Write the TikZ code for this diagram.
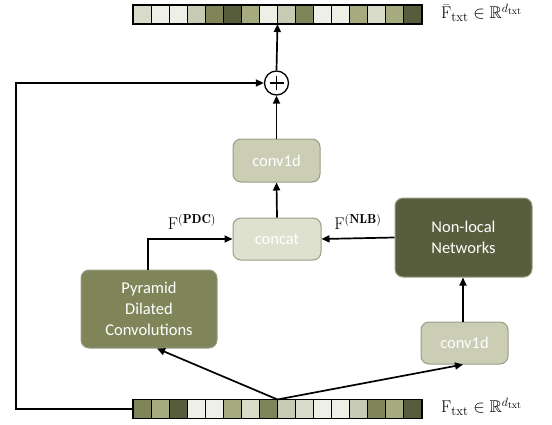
\documentclass[tikz,border=0pt]{standalone}
\usepackage{amsmath,amssymb}
\usepackage{fontspec}
\newfontfamily\boxfont{Carlito}
\DeclareMathSizes{17}{17}{13}{10}
\usetikzlibrary{arrows.meta,positioning,calc}
\definecolor{cVL}{HTML}{EEEFE6}
\definecolor{cL}{HTML}{D9DBCB}
\definecolor{cLM}{HTML}{C8CBB4}
\definecolor{cML}{HTML}{A5AA7F}
\definecolor{cM}{HTML}{7F8558}
\definecolor{cD}{HTML}{575D3C}
\definecolor{convfill}{HTML}{CBCDB5}
\definecolor{concatfill}{HTML}{DEE0D0}
\definecolor{pdcfill}{HTML}{7F8559}
\definecolor{nlfill}{HTML}{585E3D}
\definecolor{boxborder}{HTML}{9A9D85}
\tikzset{
  cell/.style={draw=black, line width=1.1pt, minimum width=18.06pt, minimum height=19pt, inner sep=0pt, outer sep=0pt},
  blk/.style={rounded corners=8pt, draw=boxborder, line width=1pt, text=white, align=center, inner sep=0pt,
    font=\boxfont\fontsize{16.5}{21}\selectfont},
  conn/.style={line width=1.7pt, draw=black},
  arr/.style={conn, -{Triangle[length=8pt,width=7pt]}},
  mlabel/.style={font=\fontsize{17}{20}\selectfont, inner sep=0pt}
}
\begin{document}
\begin{tikzpicture}[x=1pt,y=-1pt]
\useasboundingbox (0,0) rectangle (552,424);
% top bar
\foreach \c [count=\i] in {cL,cVL,cVL,cLM,cM,cD,cML,cVL,cLM,cM,cVL,cVL,cML,cL,cML,cD}{
  \node[cell, fill=\c] (t\i) at ({133+18.06*(\i-0.5)},14.5) {};
}
% bottom bar
\foreach \c [count=\i] in {cM,cML,cD,cVL,cVL,cML,cL,cM,cLM,cL,cVL,cVL,cLM,cM,cML,cD}{
  \node[cell, fill=\c] (b\i) at ({133+18.06*(\i-0.5)},409) {};
}
\node[mlabel, anchor=west] (toplab) at (441,13) {$\bar{\mathrm{F}}_{\mathrm{txt}} \in \mathbb{R}^{d_{\mathrm{txt}}}$};
\node[mlabel, anchor=west] (botlab) at (441,407) {$\mathrm{F}_{\mathrm{txt}} \in \mathbb{R}^{d_{\mathrm{txt}}}$};

% blocks
\node[blk, fill=convfill, minimum width=87pt, minimum height=43pt] (conv1) at (276.5,160.5) {conv1d};
\node[blk, fill=concatfill, minimum width=88pt, minimum height=42pt] (concat) at (277,239) {concat};
\node[blk, fill=nlfill, minimum width=137pt, minimum height=79pt] (nl) at (463.5,237.5) {Non-local\\Networks};
\node[blk, fill=pdcfill, minimum width=136pt, minimum height=78pt] (pdc) at (149,309) {Pyramid\\Dilated\\Convolutions};
\node[blk, fill=convfill, minimum width=87pt, minimum height=42pt] (conv2) at (464.5,343) {conv1d};

% plus
\node[circle, draw=black, line width=1.3pt, minimum size=24pt, inner sep=0pt] (plus) at (276.5,83) {};
\draw[line width=1.3pt] ([xshift=-7pt]plus.center) -- ([xshift=7pt]plus.center);
\draw[line width=1.3pt] ([yshift=-7pt]plus.center) -- ([yshift=7pt]plus.center);

% connectors
\coordinate (fork) at (b8.north east);
\draw[arr] (fork) -- (pdc.south -| 157,0) ;
\draw[arr] (fork) -- (conv2.south -| 463,0);
\draw[arr] (conv2.north -| 463,0) -- (nl.south -| 463,0);
\draw[arr] (nl.west) -- (concat.east);
\draw[arr] (pdc.north -| 148,0) |- (concat.west);
\draw[arr] (concat.north) -- (conv1.south);
\draw[arr] (conv1.north) -- (plus.south);
\draw[arr] (plus.north) -- (t8.south east);
\coordinate (lc1) at (16,409);
\coordinate (lc2) at (16,83);
\draw[arr] (b1.west) -- (lc1) -- (lc2) -- (plus.west);

% labels
\node[mlabel] (pdclab) at (192,222) {$\mathrm{F}^{(\mathbf{PDC})}$};
\node[mlabel] (nlblab) at (358,222) {$\mathrm{F}^{(\mathbf{NLB})}$};
\end{tikzpicture}
\end{document}
